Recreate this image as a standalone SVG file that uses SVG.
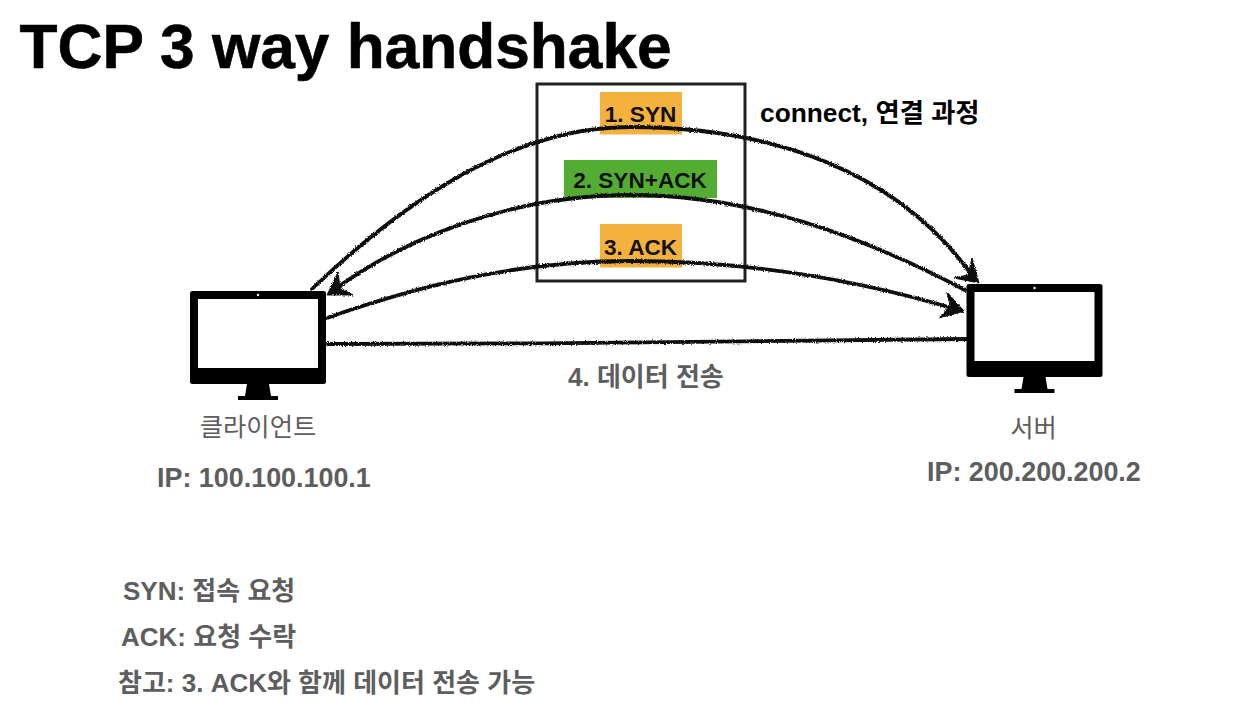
<svg xmlns="http://www.w3.org/2000/svg" width="1254" height="718" viewBox="0 0 1254 718">
<style>
text{font-family:"Liberation Sans","Noto Sans CJK KR",sans-serif;}
.b{font-weight:700}
.g{fill:#5e5e5e}
.k{fill:#000}
.l{font-size:26px;font-weight:700;fill:#5e5e5e}
.ip{font-size:26.9px;font-weight:700;fill:#5e5e5e}
.s{font-size:22.6px;font-weight:700;fill:#111}
.c{fill:none;stroke:#111;stroke-width:3.8;stroke-linecap:round}
.h{fill:#111;stroke:#111;stroke-width:1}
</style>
<defs>
<filter id="rough" x="-5%" y="-10%" width="110%" height="120%" filterUnits="objectBoundingBox">
<feTurbulence type="fractalNoise" baseFrequency="0.9" numOctaves="2" seed="3"/>
<feDisplacementMap in="SourceGraphic" scale="3" xChannelSelector="R" yChannelSelector="G"/>
</filter>
<g id="monitor">
<rect x="190" y="291" width="136" height="93" rx="2.5" fill="#000"/>
<rect x="198" y="299" width="120" height="69" fill="#fff"/>
<circle cx="258" cy="295" r="1.2" fill="#fff"/>
<path d="M247 384H269L271 396H278V400H238V396H245Z" fill="#000"/>
</g>
</defs>
<rect width="1254" height="718" fill="#fff"/>
<text id="title" x="19.500" y="68" class="b k" font-size="62.200" stroke="#000" stroke-width="0.6">TCP 3 way handshake</text>
<g id="step-box"><rect x="537" y="84" width="208" height="197" fill="none" stroke="#222" stroke-width="3"/></g>
<g id="label-syn"><rect x="600" y="92" width="82" height="42.500" fill="#f4b13d"/><text x="640.500" y="122" text-anchor="middle" class="s">1. SYN</text></g>
<g id="label-synack"><rect x="564" y="160" width="153" height="38" fill="#54ad33"/><text x="640" y="188" text-anchor="middle" class="s">2. SYN+ACK</text></g>
<g id="label-ack"><rect x="600" y="224" width="82" height="43.500" fill="#f4b13d"/><text x="640.500" y="255" text-anchor="middle" class="s">3. ACK</text></g>
<g id="connectors" filter="url(#rough)">
<path class="c" d="M312 289C400 205 510 127 630 127C770 127 900 170 976 281"/>
<path class="h" d="M979 283L972 258L968 275L954 278Z"/>
<path class="c" d="M965 290C860 235 750 195 630 195C510 195 400 240 330 293"/>
<path class="h" d="M327 295L338 272L340 288L353 295Z"/>
<path class="c" d="M327 318C420 285 520 261 630 261C750 261 860 280 962 311"/>
<path class="h" d="M964 311L947 292L950 306L939 318Z"/>
<path class="c" d="M327 344C540 344 760 342 966 339"/>
</g>
<g id="client"><use href="#monitor"/><text x="258" y="436" text-anchor="middle" class="g" font-size="25.3">클라이언트</text><text x="157" y="487" class="ip">IP: 100.100.100.1</text></g>
<g id="server"><use href="#monitor" x="776.500" y="-7"/><text x="1033.500" y="437" text-anchor="middle" class="g" font-size="25.3">서버</text><text x="927" y="481" class="ip">IP: 200.200.200.2</text></g>
<text id="connect" x="760" y="122" class="b k" font-size="26.3">connect, 연결 과정</text>
<text id="data" x="568" y="386" class="l">4. 데이터 전송</text>
<text id="note1" x="123" y="600" class="l">SYN: 접속 요청</text>
<text id="note2" x="121" y="646" class="l">ACK: 요청 수락</text>
<text id="note3" x="118" y="692" class="l">참고: 3. ACK와 함께 데이터 전송 가능</text>
</svg>
